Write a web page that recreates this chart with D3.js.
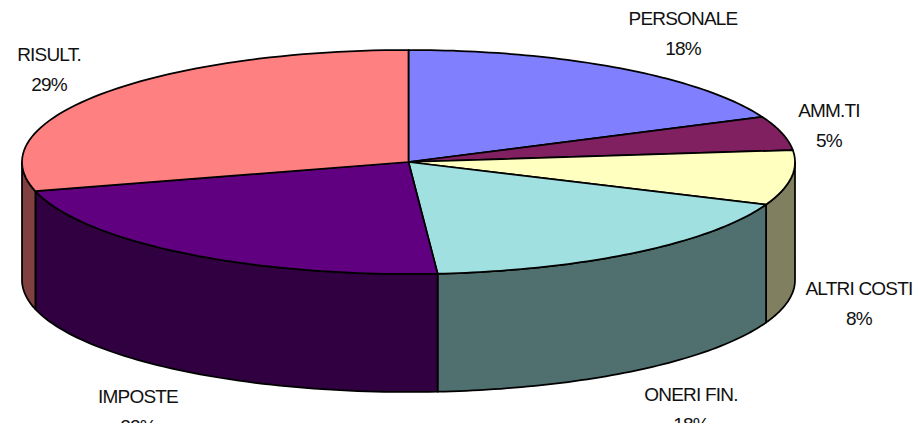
<!DOCTYPE html>
<html>
<head>
<meta charset="utf-8">
<script src="https://cdn.jsdelivr.net/npm/d3@7"></script>
<style>
  html, body { margin: 0; background: #fff; }
  svg { display: block; }
  text { font-family: "Liberation Sans", Arial, sans-serif; font-size: 19px; fill: #111; text-anchor: middle; letter-spacing: -0.8px; }
</style>
</head>
<body>
<div class="chart"></div>
<script>
const categories = ['PERSONALE', 'AMM.TI', 'ALTRI COSTI', 'ONERI FIN.', 'IMPOSTE', 'RISULT.'];
// the labels show them rounded
const shares = [18.4, 4.9, 7.9, 17.6, 22, 29.2];
const topColors = ['#8080ff', '#802060', '#ffffc0', '#a0e0e0', '#600080', '#ff8080'];
const sideColors = ['#404080', '#401030', '#808060', '#507070', '#300040', '#804040'];
const labelX = [683, 829, 859, 691, 138, 49];
const labelY = [25, 117, 295, 401, 403, 61];

const width = 920, height = 423;
const cx = 408.5, cy = 162, rx = 386.5, ry = 112, depth = 118;

const svg = d3.select('.chart').append('svg')
  .attr('width', width)
  .attr('height', height);

const slices = d3.pie().sort(null)(shares);

// angle runs clockwise from 12 o'clock, same as d3.pie
const rim = (a, drop) => [cx + rx * Math.sin(a), cy - ry * Math.cos(a) + drop];
const arcAngles = (a0, a1) => d3.range(0, 61).map(i => a0 + (a1 - a0) * i / 60);
const line = d3.line();

// side walls first, only the part of the rim facing the viewer
const front = slices
  .map(d => ({
    index: d.index,
    a0: Math.max(d.startAngle, Math.PI / 2),
    a1: Math.min(d.endAngle, Math.PI * 1.5)
  }))
  .filter(d => d.a1 > d.a0);

svg.append('g').selectAll('path')
  .data(front)
  .enter().append('path')
  .attr('d', d => {
    const angles = arcAngles(d.a0, d.a1);
    const upper = angles.map(a => rim(a, 0));
    const lower = angles.slice().reverse().map(a => rim(a, depth));
    return line(upper.concat(lower)) + 'Z';
  })
  .style('fill', d => sideColors[d.index])
  .style('stroke', '#000')
  .style('stroke-width', 1.75)
  .style('stroke-linejoin', 'round');

svg.append('g').selectAll('path')
  .data(slices)
  .enter().append('path')
  .attr('d', d => line([[cx, cy]].concat(arcAngles(d.startAngle, d.endAngle).map(a => rim(a, 0)))) + 'Z')
  .style('fill', d => topColors[d.index])
  .style('stroke', '#000')
  .style('stroke-width', 1.75)
  .style('stroke-linejoin', 'round');

const labels = svg.append('g').selectAll('text')
  .data(slices)
  .enter().append('text')
  .attr('x', d => labelX[d.index])
  .attr('y', d => labelY[d.index]);

labels.append('tspan')
  .attr('x', d => labelX[d.index])
  .text(d => categories[d.index]);

labels.append('tspan')
  .attr('x', d => labelX[d.index])
  .attr('dy', 30)
  .text(d => d3.format('.0f')(d.data) + '%');
</script>
</body>
</html>
